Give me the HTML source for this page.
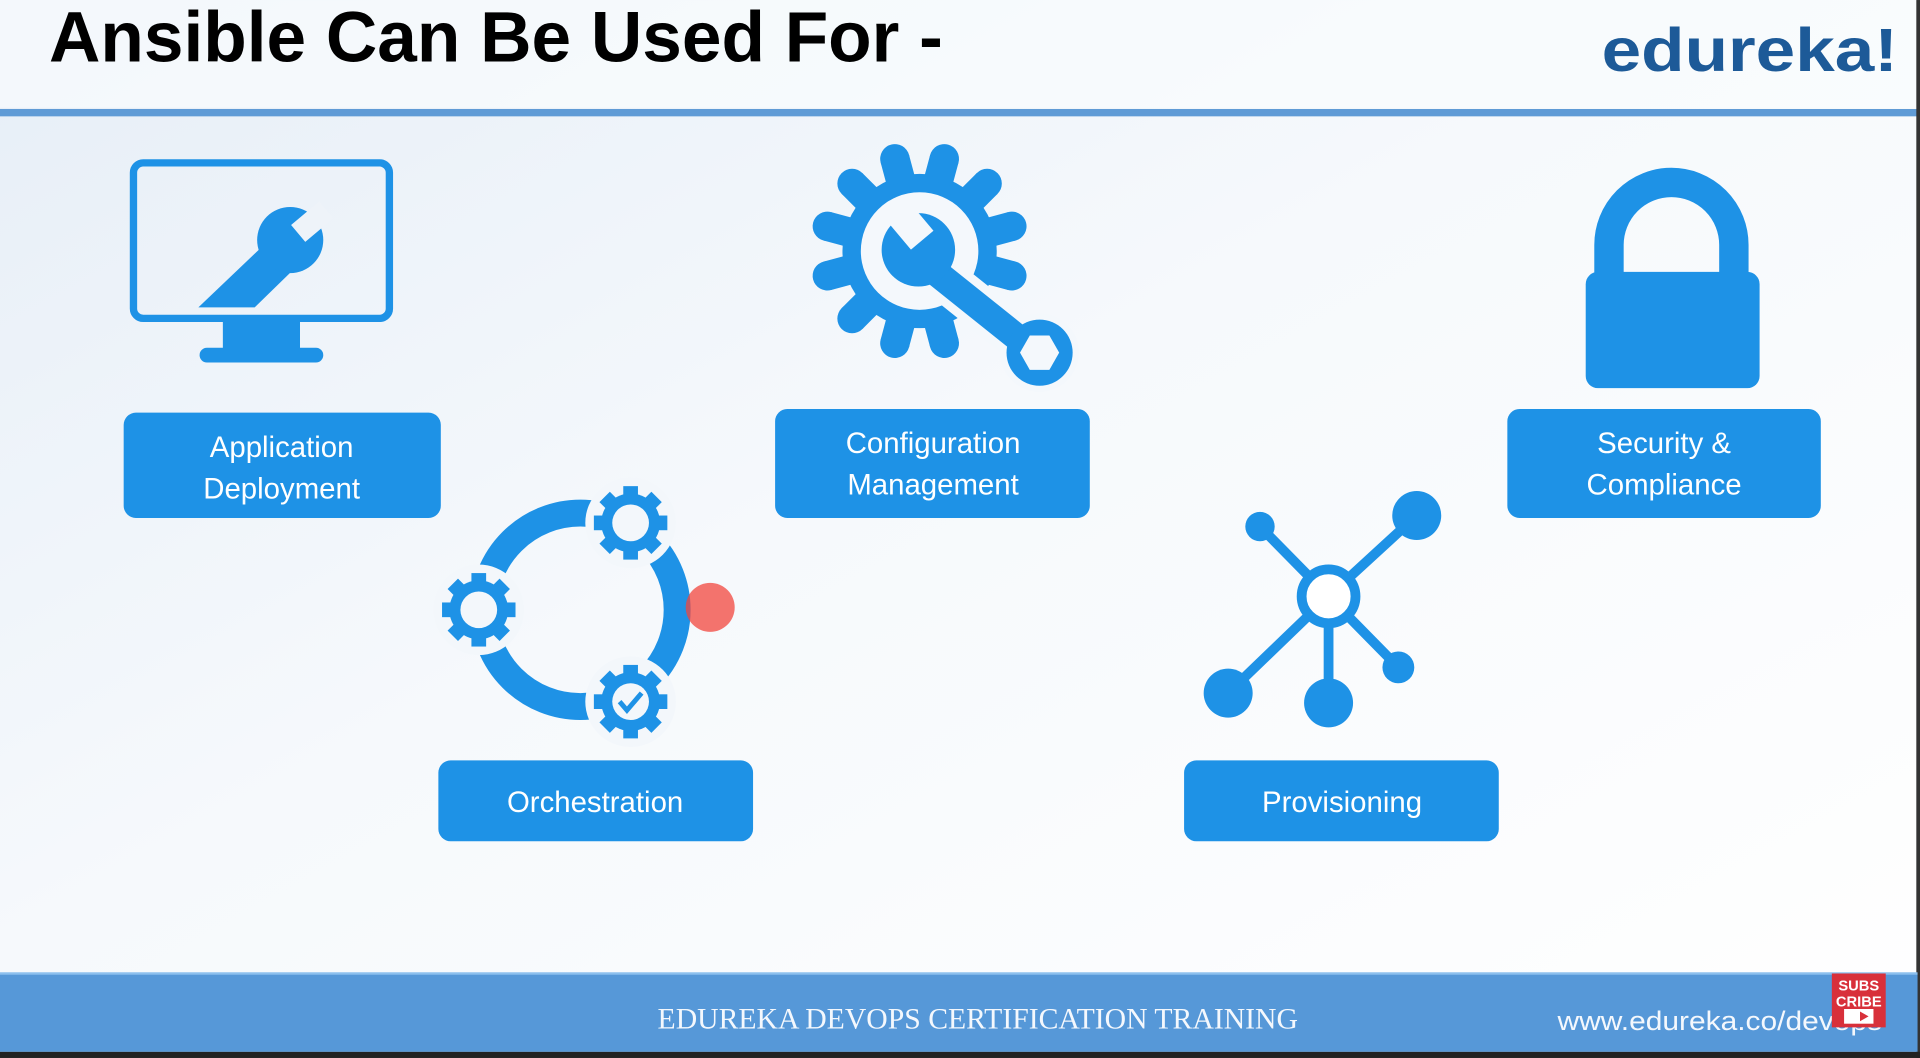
<!DOCTYPE html>
<html><head><meta charset="utf-8"><style>
html,body{margin:0;padding:0;width:1920px;height:1058px;overflow:hidden;background:#fff}
svg{display:block}
</style></head><body>
<svg width="1920" height="1058" viewBox="0 0 1568 864" xmlns="http://www.w3.org/2000/svg">
<defs>
<linearGradient id="bg" x1="0" y1="0" x2="1" y2="1">
<stop offset="0" stop-color="#e6eef7"/><stop offset="0.45" stop-color="#f6f9fc"/><stop offset="1" stop-color="#ffffff"/>
</linearGradient>
<g id="t" fill="#1e92e6"><circle cx="0" cy="-78" r="12"/><rect x="-12" y="-78" width="24" height="20"/></g>
<g id="st" fill="#1e92e6"><rect x="-6" y="-30" width="12" height="10"/></g>
<g id="sg" fill="#1e92e6"><circle r="24"/>
<use href="#st"/><use href="#st" transform="rotate(45)"/><use href="#st" transform="rotate(90)"/><use href="#st" transform="rotate(135)"/>
<use href="#st" transform="rotate(180)"/><use href="#st" transform="rotate(225)"/><use href="#st" transform="rotate(270)"/><use href="#st" transform="rotate(315)"/>
<circle r="15" fill="#f3f7fb"/></g>
</defs>
<rect width="1568" height="864" fill="url(#bg)"/>
<rect x="0" y="0" width="1568" height="88" fill="#fafcfe" opacity="0.7"/>
<text x="40" y="50" font-family="Liberation Sans, sans-serif" font-weight="bold" font-size="58" fill="#000" textLength="730" lengthAdjust="spacingAndGlyphs">Ansible Can Be Used For -</text>
<text x="1308" y="58" font-family="Liberation Sans, sans-serif" font-weight="bold" font-size="50" fill="#1d5a98" textLength="242" lengthAdjust="spacingAndGlyphs">edureka!</text>
<rect x="0" y="89" width="1566" height="6" fill="#5f9bd6"/>
<rect x="1565" y="0" width="3" height="864" fill="#333"/>

<g fill="#1e92e6">
<!-- monitor -->
<rect x="109" y="133" width="209" height="127" rx="8" fill="none" stroke="#1e92e6" stroke-width="6"/>
<rect x="182" y="259" width="63" height="28"/>
<rect x="163" y="284" width="101" height="12" rx="6"/>
<polygon points="162,251 208,251 248,212 226,190"/>
<circle cx="237" cy="196" r="27"/>
<rect x="240" y="172" width="30" height="18" transform="rotate(-40 255 181)" fill="#eef3f9"/>

<!-- gear + wrench -->
<g transform="translate(751 205)">
<circle r="63"/>
<use href="#t" transform="rotate(15)"/><use href="#t" transform="rotate(45)"/><use href="#t" transform="rotate(75)"/>
<use href="#t" transform="rotate(105)"/><use href="#t" transform="rotate(135)"/><use href="#t" transform="rotate(165)"/>
<use href="#t" transform="rotate(195)"/><use href="#t" transform="rotate(225)"/><use href="#t" transform="rotate(255)"/>
<use href="#t" transform="rotate(285)"/><use href="#t" transform="rotate(315)"/><use href="#t" transform="rotate(345)"/>
</g>
<circle cx="751" cy="205" r="48" fill="#f4f8fc"/>
<line x1="755" y1="215" x2="845" y2="287" stroke="#f4f8fc" stroke-width="36"/>
<circle cx="849" cy="288" r="32" fill="#f4f8fc"/>
<line x1="755" y1="215" x2="845" y2="287" stroke="#1e92e6" stroke-width="22"/>
<circle cx="750" cy="204" r="30"/>
<rect x="736" y="160" width="24" height="38" transform="rotate(-40 748 190)" fill="#f4f8fc"/>
<circle cx="849" cy="288" r="27"/>
<polygon points="865,288 857,302 841,302 833,288 841,274 857,274" fill="#f4f8fc"/>

<!-- padlock -->
<path d="M1314 228 V200 A51 51 0 0 1 1416 200 V228" fill="none" stroke="#1e92e6" stroke-width="24"/>
<rect x="1295" y="222" width="142" height="95" rx="10"/>

<!-- orchestration -->
<circle cx="474" cy="498" r="79" fill="none" stroke="#1e92e6" stroke-width="22"/>
<circle cx="515" cy="427" r="37" fill="#f3f7fb"/>
<circle cx="391" cy="498" r="37" fill="#f3f7fb"/>
<circle cx="515" cy="573" r="37" fill="#f3f7fb"/>
<use href="#sg" transform="translate(515 427)"/>
<use href="#sg" transform="translate(391 498)"/>
<use href="#sg" transform="translate(515 573)"/>
<path d="M506 573 L512 580 L524 566" fill="none" stroke="#1e92e6" stroke-width="4"/>
<circle cx="580" cy="496" r="20" fill="#f2453d" opacity="0.75"/>

<!-- provisioning -->
<g stroke="#1e92e6" stroke-width="8">
<line x1="1085" y1="487" x2="1029" y2="430"/><line x1="1085" y1="487" x2="1157" y2="421"/>
<line x1="1085" y1="487" x2="1003" y2="566"/><line x1="1085" y1="487" x2="1085" y2="574"/>
<line x1="1085" y1="487" x2="1142" y2="545"/>
</g>
<circle cx="1085" cy="487" r="22" fill="#fff" stroke="#1e92e6" stroke-width="8"/>
<circle cx="1029" cy="430" r="12"/><circle cx="1157" cy="421" r="20"/>
<circle cx="1003" cy="566" r="20"/><circle cx="1085" cy="574" r="20"/><circle cx="1142" cy="545" r="13"/>

<!-- buttons -->
<rect x="101" y="337" width="259" height="86" rx="10"/>
<rect x="633" y="334" width="257" height="89" rx="10"/>
<rect x="1231" y="334" width="256" height="89" rx="10"/>
<rect x="358" y="621" width="257" height="66" rx="10"/>
<rect x="967" y="621" width="257" height="66" rx="10"/>
</g>
<g font-family="Liberation Sans, sans-serif" font-size="24" fill="#fff" text-anchor="middle">
<text x="230" y="373">Application</text><text x="230" y="407">Deployment</text>
<text x="762" y="370">Configuration</text><text x="762" y="404">Management</text>
<text x="1359" y="370">Security &amp;</text><text x="1359" y="404">Compliance</text>
<text x="486" y="663">Orchestration</text>
<text x="1096" y="663">Provisioning</text>
</g>

<!-- footer -->
<rect x="0" y="795" width="1566" height="64" fill="#5698d8"/>
<rect x="0" y="794" width="1566" height="2" fill="#8cc0ee"/>
<rect x="0" y="859" width="1568" height="5" fill="#222"/>
<text x="537" y="840" font-family="Liberation Serif, serif" font-size="24" fill="#f4f8fd" textLength="523" lengthAdjust="spacingAndGlyphs">EDUREKA DEVOPS CERTIFICATION TRAINING</text>
<text x="1272" y="841" font-family="Liberation Sans, sans-serif" font-size="22" fill="#f4f8fd" textLength="265" lengthAdjust="spacingAndGlyphs">www.edureka.co/devops</text>
<rect x="1496" y="795" width="44" height="44" fill="#d8303a"/>
<text x="1518" y="809" font-family="Liberation Sans, sans-serif" font-weight="bold" font-size="12" fill="#fff" text-anchor="middle">SUBS</text>
<text x="1518" y="822" font-family="Liberation Sans, sans-serif" font-weight="bold" font-size="12" fill="#fff" text-anchor="middle">CRIBE</text>
<rect x="1506" y="824" width="24" height="12" fill="#fff"/>
<polygon points="1519,826 1526,830 1519,834" fill="#d8303a"/>
</svg>
</body></html>
